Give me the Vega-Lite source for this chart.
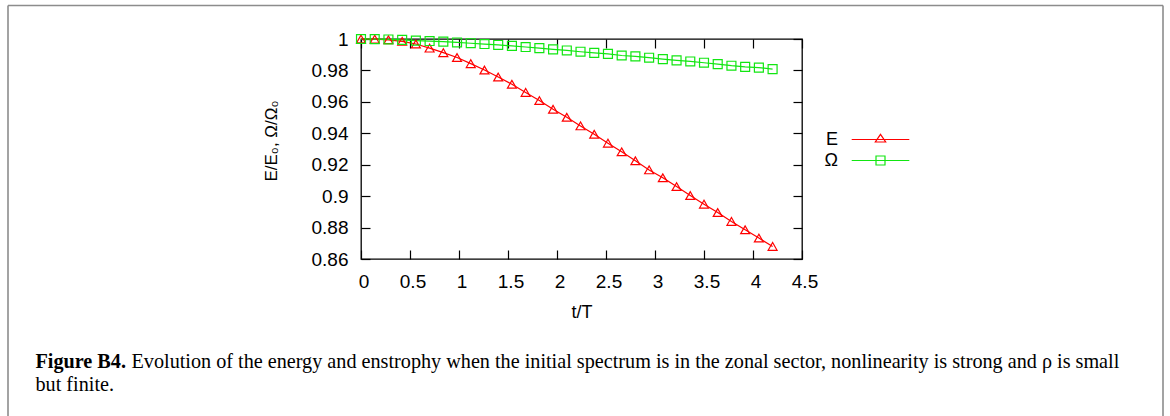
{
  "$schema": "https://vega.github.io/schema/vega-lite/v6.json",
  "width": 441,
  "height": 220,
  "autosize": "none",
  "padding": {"left": 361, "top": 39, "right": 368, "bottom": 157},
  "background": "white",
  "config": {
    "font": "Liberation Sans",
    "view": {"stroke": "#000000", "strokeWidth": 1.3}
  },
  "data": {
    "values": [
      {"t": 0.00, "series": "E", "value": 1.0000},
      {"t": 0.14, "series": "E", "value": 0.9999},
      {"t": 0.28, "series": "E", "value": 0.9995},
      {"t": 0.42, "series": "E", "value": 0.9985},
      {"t": 0.56, "series": "E", "value": 0.9968},
      {"t": 0.70, "series": "E", "value": 0.9942},
      {"t": 0.84, "series": "E", "value": 0.9913},
      {"t": 0.98, "series": "E", "value": 0.9882},
      {"t": 1.12, "series": "E", "value": 0.9843},
      {"t": 1.26, "series": "E", "value": 0.9803},
      {"t": 1.40, "series": "E", "value": 0.9758},
      {"t": 1.54, "series": "E", "value": 0.9712},
      {"t": 1.68, "series": "E", "value": 0.9660},
      {"t": 1.82, "series": "E", "value": 0.9608},
      {"t": 1.96, "series": "E", "value": 0.9553},
      {"t": 2.10, "series": "E", "value": 0.9502},
      {"t": 2.24, "series": "E", "value": 0.9447},
      {"t": 2.38, "series": "E", "value": 0.9394},
      {"t": 2.52, "series": "E", "value": 0.9337},
      {"t": 2.66, "series": "E", "value": 0.9282},
      {"t": 2.80, "series": "E", "value": 0.9225},
      {"t": 2.94, "series": "E", "value": 0.9167},
      {"t": 3.08, "series": "E", "value": 0.9117},
      {"t": 3.22, "series": "E", "value": 0.9061},
      {"t": 3.36, "series": "E", "value": 0.9004},
      {"t": 3.50, "series": "E", "value": 0.8949},
      {"t": 3.64, "series": "E", "value": 0.8896},
      {"t": 3.78, "series": "E", "value": 0.8839},
      {"t": 3.92, "series": "E", "value": 0.8786},
      {"t": 4.06, "series": "E", "value": 0.8733},
      {"t": 4.20, "series": "E", "value": 0.8680},
      {"t": 0.00, "series": "Ω", "value": 1.0000},
      {"t": 0.14, "series": "Ω", "value": 0.9999},
      {"t": 0.28, "series": "Ω", "value": 0.9997},
      {"t": 0.42, "series": "Ω", "value": 0.9994},
      {"t": 0.56, "series": "Ω", "value": 0.9990},
      {"t": 0.70, "series": "Ω", "value": 0.9987},
      {"t": 0.84, "series": "Ω", "value": 0.9983},
      {"t": 0.98, "series": "Ω", "value": 0.9978},
      {"t": 1.12, "series": "Ω", "value": 0.9973},
      {"t": 1.26, "series": "Ω", "value": 0.9968},
      {"t": 1.40, "series": "Ω", "value": 0.9962},
      {"t": 1.54, "series": "Ω", "value": 0.9956},
      {"t": 1.68, "series": "Ω", "value": 0.9949},
      {"t": 1.82, "series": "Ω", "value": 0.9942},
      {"t": 1.96, "series": "Ω", "value": 0.9934},
      {"t": 2.10, "series": "Ω", "value": 0.9927},
      {"t": 2.24, "series": "Ω", "value": 0.9919},
      {"t": 2.38, "series": "Ω", "value": 0.9912},
      {"t": 2.52, "series": "Ω", "value": 0.9905},
      {"t": 2.66, "series": "Ω", "value": 0.9895},
      {"t": 2.80, "series": "Ω", "value": 0.9889},
      {"t": 2.94, "series": "Ω", "value": 0.9881},
      {"t": 3.08, "series": "Ω", "value": 0.9872},
      {"t": 3.22, "series": "Ω", "value": 0.9864},
      {"t": 3.36, "series": "Ω", "value": 0.9857},
      {"t": 3.50, "series": "Ω", "value": 0.9849},
      {"t": 3.64, "series": "Ω", "value": 0.9840},
      {"t": 3.78, "series": "Ω", "value": 0.9830},
      {"t": 3.92, "series": "Ω", "value": 0.9823},
      {"t": 4.06, "series": "Ω", "value": 0.9818},
      {"t": 4.20, "series": "Ω", "value": 0.9808}
    ]
  },
  "layer": [
    {
      "mark": {"type": "line", "strokeWidth": 1.2, "clip": false},
      "encoding": {
        "x": {
          "field": "t",
          "type": "quantitative",
          "scale": {"domain": [0, 4.5], "nice": false, "zero": false},
          "axis": {
            "orient": "bottom",
            "values": [0, 0.5, 1, 1.5, 2, 2.5, 3, 3.5, 4, 4.5],
            "format": "~g",
            "domain": false,
            "grid": false,
            "tickSize": -9,
            "tickColor": "#000000",
            "tickWidth": 1.2,
            "labelFontSize": 19,
            "labelColor": "#000000",
            "labelBaseline": "alphabetic",
            "labelPadding": 37,
            "labelOffset": 2.5,
            "labelFlush": false,
            "labelOverlap": false,
            "title": "t/T",
            "titleFontSize": 18,
            "titleFontWeight": "normal",
            "titleColor": "#000000",
            "titleBaseline": "alphabetic",
            "titleY": 58
          }
        },
        "y": {
          "field": "value",
          "type": "quantitative",
          "scale": {"domain": [0.86, 1], "nice": false, "zero": false},
          "axis": {
            "orient": "left",
            "values": [0.86, 0.88, 0.9, 0.92, 0.94, 0.96, 0.98, 1],
            "format": "~g",
            "domain": false,
            "grid": false,
            "tickSize": -9,
            "tickColor": "#000000",
            "tickWidth": 1.2,
            "labelFontSize": 19,
            "labelColor": "#000000",
            "labelPadding": 22,
            "labelFlush": false,
            "labelOverlap": false,
            "title": "E/E₀, Ω/Ω₀",
            "titleFontSize": 17,
            "titleFontWeight": "normal",
            "titleColor": "#000000",
            "titleAngle": -90,
            "titleAlign": "center",
            "titleBaseline": "alphabetic",
            "titleX": -85,
            "titleY": 101.5
          }
        },
        "color": {
          "field": "series",
          "type": "nominal",
          "scale": {"domain": ["E", "Ω"], "range": ["#ff0000", "#11e611"]}
        }
      }
    },
    {
      "transform": [{"filter": "datum.series === 'E'"}],
      "mark": {"type": "point", "shape": "triangle-up", "filled": false, "size": 80, "strokeWidth": 1.2, "opacity": 1, "clip": false},
      "encoding": {
        "x": {
          "field": "t",
          "type": "quantitative",
          "scale": {"domain": [0, 4.5], "nice": false, "zero": false},
          "axis": {
            "orient": "top",
            "values": [0, 0.5, 1, 1.5, 2, 2.5, 3, 3.5, 4, 4.5],
            "labels": false,
            "domain": false,
            "grid": false,
            "tickSize": -9,
            "tickColor": "#000000",
            "tickWidth": 1.2,
            "title": "Evolution of the energy and enstrophy when the initial spectrum is in the zonal sector, nonlinearity is strong and ρ is small",
            "titleFont": "Liberation Serif",
            "titleFontSize": 20.2,
            "titleFontWeight": "normal",
            "titleColor": "#000000",
            "titleAngle": 0,
            "titleAlign": "left",
            "titleBaseline": "alphabetic",
            "titleX": -230,
            "titleY": 328
          }
        },
        "y": {
          "field": "value",
          "type": "quantitative",
          "scale": {"domain": [0.86, 1], "nice": false, "zero": false},
          "axis": {
            "orient": "right",
            "values": [0.86, 0.88, 0.9, 0.92, 0.94, 0.96, 0.98, 1],
            "labels": false,
            "domain": false,
            "grid": false,
            "tickSize": -9,
            "tickColor": "#000000",
            "tickWidth": 1.2,
            "title": null
          }
        },
        "color": {
          "field": "series",
          "type": "nominal",
          "scale": {"domain": ["E", "Ω"], "range": ["#ff0000", "#11e611"]}
        }
      }
    },
    {
      "transform": [{"filter": "datum.series === 'Ω'"}],
      "mark": {"type": "point", "shape": "square", "filled": false, "size": 80, "strokeWidth": 1.2, "opacity": 1, "clip": false},
      "encoding": {
        "x": {
          "field": "t",
          "type": "quantitative",
          "scale": {"domain": [0, 4.5], "nice": false, "zero": false},
          "axis": null
        },
        "y": {
          "field": "value",
          "type": "quantitative",
          "scale": {"domain": [0.86, 1], "nice": false, "zero": false},
          "axis": null
        },
        "color": {
          "field": "series",
          "type": "nominal",
          "scale": {"domain": ["E", "Ω"], "range": ["#ff0000", "#11e611"]}
        }
      }
    },
    {
      "transform": [{"filter": "false"}],
      "mark": {"type": "point", "filled": false, "strokeWidth": 1.2, "opacity": 1},
      "encoding": {
        "x": {
          "field": "t",
          "type": "quantitative",
          "scale": {"domain": [0, 4.5], "nice": false, "zero": false},
          "axis": null
        },
        "y": {
          "field": "value",
          "type": "quantitative",
          "scale": {"domain": [0.86, 1], "nice": false, "zero": false},
          "axis": null
        },
        "color": {
          "field": "series",
          "type": "nominal",
          "scale": {"domain": ["E", "Ω"], "range": ["#ff0000", "#11e611"]},
          "legend": {
            "orient": "none",
            "legendX": 510.5,
            "legendY": 91.5,
            "title": null,
            "padding": 0,
            "labelFont": "Liberation Sans",
            "labelFontSize": 18,
            "labelColor": "#000000",
            "labelAlign": "right",
            "labelOffset": -51.5,
            "symbolSize": 81,
            "symbolStrokeWidth": 1.2,
            "rowPadding": 3
          }
        },
        "shape": {
          "field": "series",
          "type": "nominal",
          "scale": {
            "domain": ["E", "Ω"],
            "range": ["M-6.4,0H6.4M0,-1.15L1.15,0.55L-1.15,0.55Z", "M-6.4,0H6.4M-1,-1H1V1H-1Z"]
          },
          "legend": {
            "orient": "none",
            "legendX": 510.5,
            "legendY": 91.5,
            "title": null,
            "padding": 0,
            "labelFont": "Liberation Sans",
            "labelFontSize": 18,
            "labelColor": "#000000",
            "labelAlign": "right",
            "labelOffset": -51.5,
            "symbolSize": 81,
            "symbolStrokeWidth": 1.2,
            "rowPadding": 3
          }
        }
      }
    },
    {
      "transform": [{"filter": "false"}],
      "mark": {"type": "point"},
      "encoding": {
        "x": {
          "field": "t",
          "type": "quantitative",
          "scale": {"domain": [0, 1], "range": [-353.5, 801.5], "nice": false, "zero": false},
          "axis": {
            "orient": "top",
            "offset": 34,
            "ticks": false,
            "labels": false,
            "grid": false,
            "domain": true,
            "domainColor": "#8c8c8c",
            "domainWidth": 1.6,
            "title": "Figure B4.",
            "titleFont": "Liberation Serif",
            "titleFontSize": 20.2,
            "titleFontWeight": "bold",
            "titleColor": "#000000",
            "titleAngle": 0,
            "titleAlign": "left",
            "titleBaseline": "alphabetic",
            "titleX": -326,
            "titleY": 362
          }
        },
        "y": {
          "field": "value",
          "type": "quantitative",
          "scale": {"domain": [0, 1], "range": [377, -34], "nice": false, "zero": false},
          "axis": {
            "orient": "left",
            "offset": 353.5,
            "ticks": false,
            "labels": false,
            "grid": false,
            "domain": true,
            "domainColor": "#8c8c8c",
            "domainWidth": 1.6,
            "title": "but finite.",
            "titleFont": "Liberation Serif",
            "titleFontSize": 20.2,
            "titleFontWeight": "normal",
            "titleColor": "#000000",
            "titleAngle": 0,
            "titleAlign": "left",
            "titleBaseline": "alphabetic",
            "titleX": 27.5,
            "titleY": 351
          }
        }
      }
    },
    {
      "transform": [{"filter": "false"}],
      "mark": {"type": "point"},
      "encoding": {
        "x": {
          "field": "t",
          "type": "quantitative",
          "scale": {"domain": [0, 4.5], "nice": false, "zero": false},
          "axis": null
        },
        "y": {
          "field": "value",
          "type": "quantitative",
          "scale": {"domain": [0, 1], "range": [377, -34], "nice": false, "zero": false},
          "axis": {
            "orient": "right",
            "offset": 360.5,
            "ticks": false,
            "labels": false,
            "grid": false,
            "domain": true,
            "domainColor": "#8c8c8c",
            "domainWidth": 1.6,
            "title": null
          }
        }
      }
    }
  ],
  "resolve": {
    "scale": {"x": "independent", "y": "independent"},
    "axis": {"x": "independent", "y": "independent"}
  }
}
